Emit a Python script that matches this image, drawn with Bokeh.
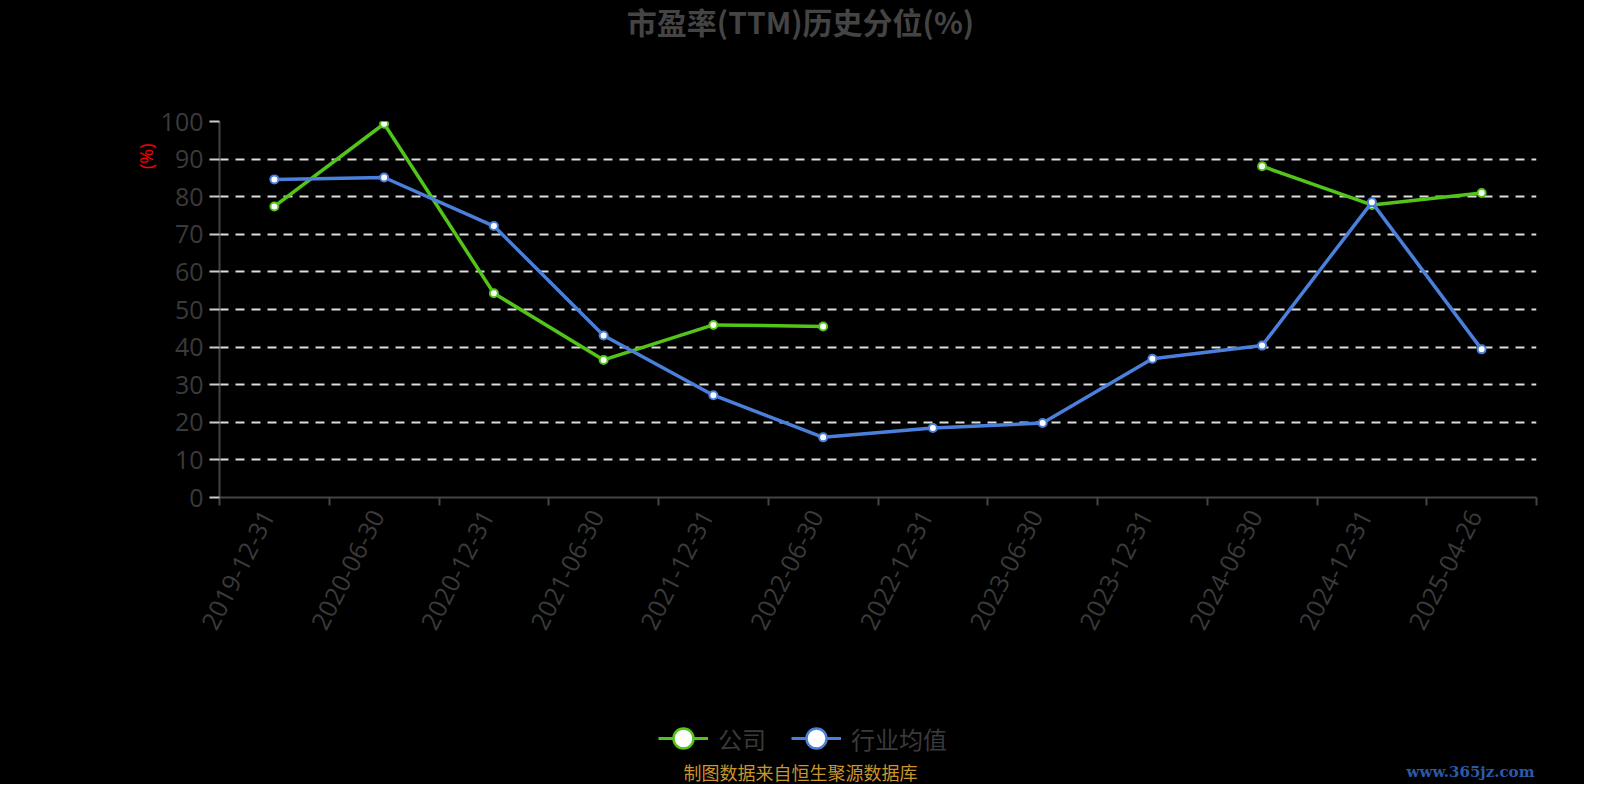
import math
from bokeh.plotting import figure
from bokeh.layouts import column
from bokeh.models import (Range1d, FixedTicker, Label, Legend, LegendItem,
                          ColumnDataSource, Title, CustomJSTickFormatter)
from bokeh.embed import file_html
from bokeh.resources import INLINE

# ---------------- data ----------------
dates = ["2019-12-31", "2020-06-30", "2020-12-31", "2021-06-30", "2021-12-31",
         "2022-06-30", "2022-12-31", "2023-06-30", "2023-12-31", "2024-06-30",
         "2024-12-31", "2025-04-26"]
company = [77.4, 99.4, 54.3, 36.6, 45.9, 45.5, None, None, None, 88.1, 77.8, 81.0]
industry = [84.6, 85.1, 72.2, 43.1, 27.2, 16.0, 18.5, 19.8, 36.9, 40.4, 78.5, 39.4]
y_ticks = [0, 10, 20, 30, 40, 50, 60, 70, 80, 90, 100]

title_text = "市盈率(TTM)历史分位(%)"
y_name = "(%)"
series_names = ["公司", "行业均值"]
footer_text = "制图数据来自恒生聚源数据库"
watermark_text = "www.365jz.com"

GREEN = "#52c41a"
BLUE = "#4a80dc"
CJK = "Noto Sans CJK SC"
TXT = "#3a3a3a"
W = 1584
TOP_H, MAIN_H, BOT_H = 100, 560, 124
FL = 219          # page x of the (shared) frame left edge
FR_PAD = 48       # space right of the frame

xs = list(range(len(dates)))
nan = float("nan")
src = ColumnDataSource(dict(
    x=xs,
    company=[nan if v is None else v for v in company],
    industry=industry,
))


def blank(h):
    f = figure(width=W, height=h, output_backend="svg", toolbar_location=None,
               x_range=Range1d(0, 1), y_range=Range1d(0, 1),
               x_axis_location=None, y_axis_location=None,
               min_border_left=FL, min_border_right=FR_PAD,
               min_border_top=0, min_border_bottom=0, outline_line_color=None)
    f.grid.visible = False
    f.background_fill_color = "black"
    f.border_fill_color = "black"
    return f


# ---------------- top: title ----------------
top = blank(TOP_H)
top.add_layout(Label(x=800 - FL, y=TOP_H - 20, x_units="screen", y_units="screen",
                     text=title_text, text_align="center", text_baseline="middle",
                     text_font=CJK, text_font_style="bold", text_font_size="30px",
                     text_color="#444444"))

# ---------------- main chart ----------------
p = figure(width=W, height=MAIN_H, output_backend="svg", toolbar_location=None,
           x_range=Range1d(-0.5, len(dates) - 0.5), y_range=Range1d(0, 100),
           min_border_left=FL, min_border_right=FR_PAD, min_border_top=21,
           min_border_bottom=163, outline_line_color=None)
p.background_fill_color = "black"
p.border_fill_color = "black"

p.xgrid.grid_line_color = None
p.ygrid.ticker = FixedTicker(ticks=y_ticks[1:])
p.ygrid.grid_line_color = "#dddddd"
p.ygrid.grid_line_width = 2
p.ygrid.grid_line_dash = "9 7"

LBL_SHIFT = 0.06
xa = p.xaxis[0]
xa.ticker = FixedTicker(ticks=[i - LBL_SHIFT for i in xs],
                        minor_ticks=[i - 0.5 for i in range(len(dates) + 1)])
xa.formatter = CustomJSTickFormatter(args=dict(dates=dates, sh=LBL_SHIFT),
                                     code="return dates[Math.round(tick + sh)];")
xa.major_label_orientation = math.radians(63)
xa.major_tick_out = 0
xa.major_tick_in = 0
xa.minor_tick_out = 8
xa.minor_tick_in = 0
xa.minor_tick_line_color = "#444444"
xa.minor_tick_line_width = 2
xa.axis_line_color = "#444444"
xa.axis_line_width = 2
xa.major_label_text_color = TXT
xa.major_label_text_font = "Open Sans"
xa.major_label_text_font_size = "25px"
xa.major_label_standoff = 6

ya = p.yaxis[0]
ya.ticker = FixedTicker(ticks=y_ticks)
ya.minor_tick_line_color = None
ya.major_tick_out = 10
ya.major_tick_in = 0
ya.major_tick_line_color = "#cccccc"
ya.major_tick_line_width = 2
ya.axis_line_color = "#444444"
ya.axis_line_width = 2
ya.major_label_text_color = TXT
ya.major_label_text_font = "Open Sans"
ya.major_label_text_font_size = "25px"
ya.major_label_standoff = 6

p.add_layout(Title(text=y_name, align="right", offset=22, standoff=0,
                   text_color="red", text_font="Open Sans", text_line_height=0.6,
                   text_font_size="18px", text_font_style="normal"), "left")

p.line("x", "company", source=src, line_color=GREEN, line_width=3.5)
p.scatter("x", "company", source=src, size=8, fill_color="white",
          line_color=GREEN, line_width=2)
p.line("x", "industry", source=src, line_color=BLUE, line_width=3.5)
p.scatter("x", "industry", source=src, size=8, fill_color="white",
          line_color=BLUE, line_width=2)

# ---------------- bottom: legend + footer ----------------
bot = blank(BOT_H)
# same series drawn in the (0..1) legend panel: they fall outside its range and
# are clipped away; they only supply the legend glyphs
gl1 = bot.line("x", "company", source=src, line_color=GREEN, line_width=3)
gs1 = bot.scatter("x", "company", source=src, fill_color="white",
                  line_color=GREEN, line_width=2.5)
gl2 = bot.line("x", "industry", source=src, line_color=BLUE, line_width=3)
gs2 = bot.scatter("x", "industry", source=src, fill_color="white",
                  line_color=BLUE, line_width=2.5)
legend = Legend(items=[LegendItem(label=series_names[0], renderers=[gl1, gs1]),
                       LegendItem(label=series_names[1], renderers=[gl2, gs2])],
                orientation="horizontal", location=(658 - FL, 784 - 763),
                glyph_width=50, glyph_height=50, label_standoff=10, spacing=25,
                padding=0, margin=0, border_line_color=None,
                background_fill_alpha=0, label_text_color=TXT,
                label_text_font=CJK, label_text_font_size="24px")
bot.add_layout(legend, "center")
bot.add_layout(Label(x=800 - FL, y=784 - 771, x_units="screen", y_units="screen",
                     text=footer_text, text_align="center", text_baseline="middle",
                     text_font=CJK, text_font_size="18px", text_color="#c9952c"))
bot.add_layout(Label(x=1534 - FL, y=784 - 771, x_units="screen", y_units="screen",
                     text=watermark_text, text_align="right", text_baseline="middle",
                     text_font="DejaVu Serif", text_font_style="bold",
                     text_font_size="15px", text_color="#2a5aa8"))

layout = column(top, p, bot, spacing=0, styles={"background-color": "black"})
open("out.html", "w").write(file_html(layout, INLINE))
